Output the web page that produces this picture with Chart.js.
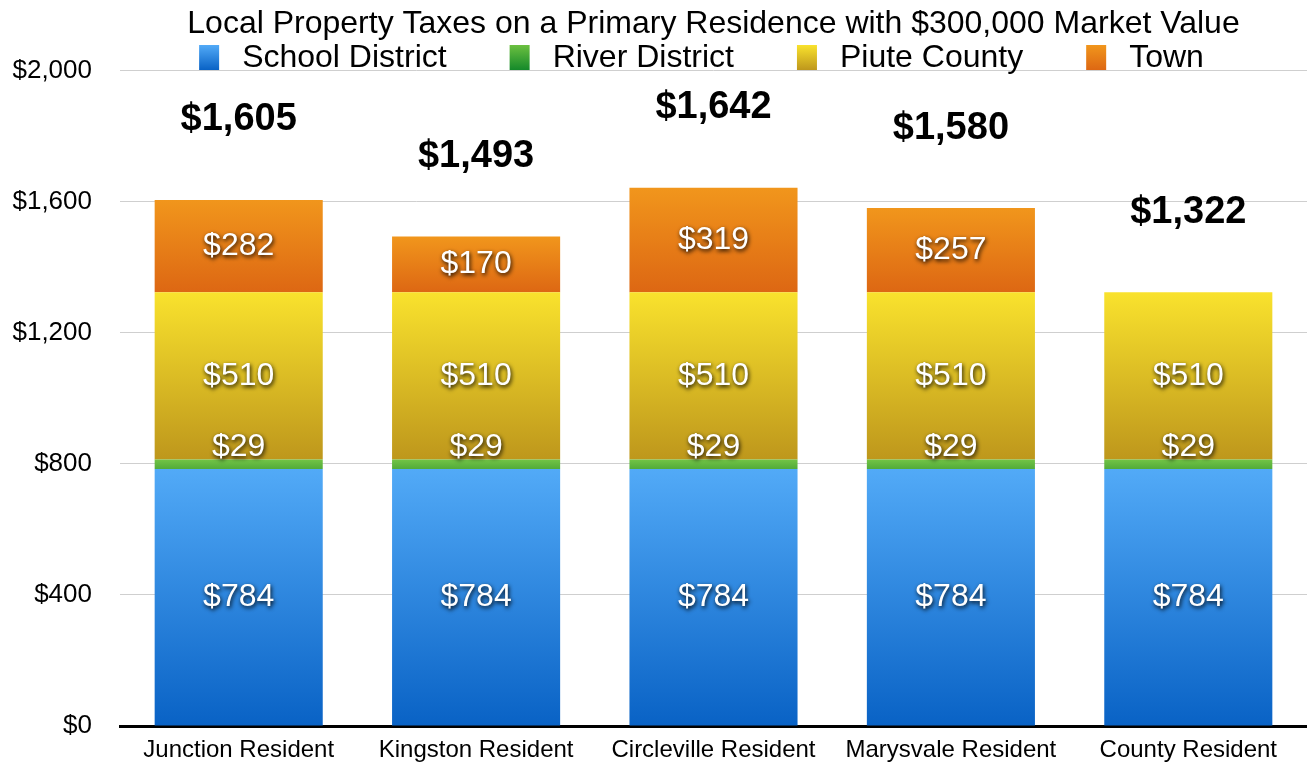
<!DOCTYPE html>
<html>
<head>
<meta charset="utf-8">
<script src="https://cdn.jsdelivr.net/npm/chart.js@4.4.1/dist/chart.umd.min.js"></script>
<style>
  html, body { margin: 0; padding: 0; background: #fff; }
  #wrap { width: 1307px; height: 766px; }
</style>
</head>
<body>
<div id="wrap"><canvas id="taxChart"></canvas></div>
<script>
// residents and what each taxing body charges them
const categories = ['Junction Resident', 'Kingston Resident', 'Circleville Resident', 'Marysvale Resident', 'County Resident'];
const schoolDistrict = [784, 784, 784, 784, 784];
const riverDistrict = [29, 29, 29, 29, 29];
const piuteCounty = [510, 510, 510, 510, 510];
const town = [282, 170, 319, 257, null];
const totals = [1605, 1493, 1642, 1580, 1322];
const yTicks = [0, 400, 800, 1200, 1600, 2000];

const FONT = '"Liberation Sans", Arial, Helvetica, sans-serif';

// top/bottom colours of each segment gradient
const fills = {
    school: ['#52aaf7', '#0962c5'],
    river: ['#72c446', '#52ab3a'],
    piute: ['#f9e22d', '#be971c'],
    town: ['#f1961c', '#dd6713']
};
const legendFills = {
    school: ['#52aaf7', '#0962c5'],
    river: ['#6cc040', '#14892a'],
    piute: ['#f9e22d', '#be971c'],
    town: ['#f1961c', '#dd6713']
};

function segmentFill(stops) {
    return (ctx) => {
        const chart = ctx.chart;
        if (ctx.type !== 'data' || !chart.chartArea || !chart.scales.y) return stops[0];
        const y = chart.scales.y;
        let base = 0;
        for (let i = 0; i < ctx.datasetIndex; i++) {
            base += chart.data.datasets[i].data[ctx.dataIndex] || 0;
        }
        const top = y.getPixelForValue(base + (ctx.raw || 0));
        const bottom = y.getPixelForValue(base);
        const g = chart.ctx.createLinearGradient(0, top, 0, bottom);
        g.addColorStop(0, stops[0]);
        g.addColorStop(1, stops[1]);
        return g;
    };
}

// white value labels inside the segments, bold totals above the stacks
const valueLabels = {
    id: 'valueLabels',
    afterDatasetsDraw(chart) {
        const ctx = chart.ctx;
        ctx.save();
        ctx.textAlign = 'center';
        ctx.textBaseline = 'middle';
        ctx.font = '32px ' + FONT;
        ctx.fillStyle = '#fff';
        ctx.shadowColor = 'rgba(0,0,0,0.95)';
        ctx.shadowBlur = 4;
        ctx.shadowOffsetX = 1;
        ctx.shadowOffsetY = 2;
        chart.data.datasets.forEach((ds, di) => {
            const meta = chart.getDatasetMeta(di);
            meta.data.forEach((el, i) => {
                const v = ds.data[i];
                if (v == null) return;
                const shift = di === 1 ? -17 : 0;
                ctx.fillText('$' + v, el.x, (el.y + el.base) / 2 + shift);
            });
        });
        ctx.restore();

        ctx.save();
        ctx.textAlign = 'center';
        ctx.textBaseline = 'middle';
        ctx.font = 'bold 38px ' + FONT;
        ctx.fillStyle = '#000';
        categories.forEach((c, i) => {
            let topY = null, x = null;
            chart.data.datasets.forEach((ds, di) => {
                if (ds.data[i] == null) return;
                const el = chart.getDatasetMeta(di).data[i];
                if (topY === null || el.y < topY) { topY = el.y; x = el.x; }
            });
            ctx.fillText('$' + totals[i].toLocaleString('en-US'), x, topY - 80);
        });
        ctx.restore();
    }
};

// legend row under the title
const legendRow = {
    id: 'legendRow',
    afterDraw(chart) {
        const ctx = chart.ctx;
        const keys = ['school', 'river', 'piute', 'town'];
        ctx.save();
        ctx.font = '32px ' + FONT;
        ctx.textBaseline = 'middle';
        const boxW = 20, boxH = 25, gap = 23, spacing = 63;
        const widths = chart.data.datasets.map(ds => ctx.measureText(ds.label).width);
        const total = widths.reduce((a, w) => a + boxW + gap + w, 0) + spacing * (widths.length - 1);
        const center = (chart.chartArea.left + chart.chartArea.right) / 2 - 12;
        let x = center - total / 2;
        const top = 45, mid = 58;
        chart.data.datasets.forEach((ds, i) => {
            const st = legendFills[keys[i]];
            const g = ctx.createLinearGradient(0, top, 0, top + boxH);
            g.addColorStop(0, st[0]);
            g.addColorStop(1, st[1]);
            ctx.fillStyle = g;
            ctx.fillRect(x, top, boxW, boxH);
            ctx.fillStyle = '#000';
            ctx.fillText(ds.label, x + boxW + gap, mid);
            x += boxW + gap + widths[i] + spacing;
        });
        ctx.restore();
    }
};

const chart = new Chart(document.getElementById('taxChart'), {
    type: 'bar',
    data: {
        labels: categories,
        datasets: [
            { label: 'School District', data: schoolDistrict, backgroundColor: segmentFill(fills.school) },
            { label: 'River District', data: riverDistrict, backgroundColor: segmentFill(fills.river) },
            { label: 'Piute County', data: piuteCounty, backgroundColor: segmentFill(fills.piute) },
            { label: 'Town', data: town, backgroundColor: segmentFill(fills.town) }
        ]
    },
    options: {
        responsive: true,
        maintainAspectRatio: false,
        animation: false,
        layout: { padding: 0 },
        datasets: { bar: { barPercentage: 0.708, categoryPercentage: 1, borderWidth: 0 } },
        plugins: {
            legend: { display: false },
            tooltip: { enabled: false },
            title: {
                display: true,
                fullSize: false,
                text: 'Local Property Taxes on a Primary Residence with $300,000 Market Value',
                color: '#000',
                font: { family: FONT, size: 32, weight: 'normal', lineHeight: 1.2 },
                padding: { top: 5, bottom: 27 }
            }
        },
        scales: {
            x: {
                stacked: true,
                afterFit: (scale) => { scale.height = 40; },
                grid: { drawOnChartArea: false, drawTicks: false },
                border: { display: true, color: '#000', width: 3 },
                ticks: { color: '#000', padding: 10, font: { family: FONT, size: 24 } }
            },
            y: {
                stacked: true,
                min: 0,
                max: 2000,
                afterBuildTicks: (scale) => { scale.ticks = yTicks.map(v => ({ value: v })); },
                afterFit: (scale) => { scale.width = 120; },
                // invisible tick marks give the labels their gap from the plot
                grid: { color: '#cfcfcf', lineWidth: 1, drawTicks: true, tickLength: 28, tickColor: 'rgba(0,0,0,0)' },
                border: { display: false },
                ticks: {
                    color: '#000',
                    padding: 0,
                    font: { family: FONT, size: 26 },
                    callback: (v) => '$' + v.toLocaleString('en-US')
                }
            }
        }
    },
    plugins: [valueLabels, legendRow]
});
</script>
</body>
</html>
